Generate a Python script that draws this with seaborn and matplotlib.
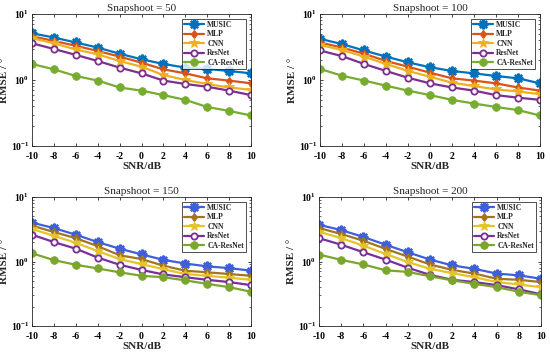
import numpy as np
import pandas as pd
import matplotlib
matplotlib.use("Agg")
import matplotlib.pyplot as plt
import seaborn as sns
from matplotlib.ticker import LogLocator, LogFormatterSciNotation, FixedLocator

sns.set_style("ticks")
plt.rcParams['font.family'] = ['Liberation Serif', 'DejaVu Serif']
plt.rcParams['mathtext.fontset'] = 'custom'
plt.rcParams['mathtext.rm'] = 'Liberation Serif:bold'
plt.rcParams['mathtext.it'] = 'Liberation Serif:bold'
plt.rcParams['mathtext.bf'] = 'Liberation Serif:bold'
plt.rcParams['axes.unicode_minus'] = False

snr = [-10, -8, -6, -4, -2, 0, 2, 4, 6, 8, 10]
methods = ["MUSIC", "MLP", "CNN", "ResNet", "CA-ResNet"]
titles = ["Snapshoot = 50", "Snapshoot = 100", "Snapshoot = 150", "Snapshoot = 200"]

# Snapshot 50
s50_music = [5.1, 4.4, 3.7, 3.1, 2.5, 2.06, 1.75, 1.54, 1.47, 1.37, 1.26]
s50_mlp = [4.6, 3.9, 3.3, 2.75, 2.26, 1.83, 1.45, 1.26, 1.06, 0.98, 0.89]
s50_cnn = [4.3, 3.6, 2.9, 2.45, 1.94, 1.59, 1.19, 1.0, 0.87, 0.77, 0.71]
s50_resnet = [3.6, 2.95, 2.4, 1.94, 1.54, 1.26, 0.98, 0.87, 0.79, 0.69, 0.59]
s50_ca = [1.75, 1.45, 1.15, 0.98, 0.77, 0.69, 0.59, 0.50, 0.39, 0.34, 0.29]

# Snapshot 100
s100_music = [4.2, 3.5, 2.8, 2.26, 1.85, 1.56, 1.37, 1.26, 1.15, 1.06, 0.89]
s100_mlp = [3.7, 3.1, 2.5, 1.94, 1.59, 1.29, 1.06, 0.98, 0.89, 0.77, 0.69]
s100_cnn = [3.4, 2.85, 2.26, 1.75, 1.37, 1.12, 0.91, 0.81, 0.72, 0.67, 0.61]
s100_resnet = [2.8, 2.3, 1.75, 1.37, 1.08, 0.89, 0.77, 0.69, 0.59, 0.54, 0.50]
s100_ca = [1.47, 1.16, 0.98, 0.82, 0.69, 0.59, 0.50, 0.44, 0.39, 0.35, 0.29]

# Snapshot 150
s150_music = [4.0, 3.3, 2.6, 2.0, 1.58, 1.29, 1.06, 0.93, 0.84, 0.79, 0.72]
s150_mlp = [3.6, 2.86, 2.3, 1.73, 1.25, 1.09, 0.86, 0.72, 0.68, 0.64, 0.60]
s150_cnn = [3.2, 2.5, 1.95, 1.45, 1.09, 0.91, 0.76, 0.64, 0.60, 0.56, 0.52]
s150_resnet = [2.6, 2.0, 1.58, 1.15, 0.89, 0.74, 0.63, 0.57, 0.52, 0.48, 0.43]
s150_ca = [1.34, 1.05, 0.89, 0.78, 0.68, 0.60, 0.57, 0.51, 0.45, 0.40, 0.34]

# Snapshot 200
s200_music = [3.7, 3.07, 2.4, 1.82, 1.39, 1.07, 0.87, 0.77, 0.65, 0.61, 0.54]
s200_mlp = [3.3, 2.67, 2.1, 1.57, 1.19, 0.90, 0.74, 0.65, 0.54, 0.52, 0.48]
s200_cnn = [2.9, 2.3, 1.76, 1.31, 0.98, 0.77, 0.66, 0.57, 0.48, 0.44, 0.40]
s200_resnet = [2.3, 1.82, 1.39, 1.07, 0.80, 0.62, 0.52, 0.48, 0.43, 0.37, 0.31]
s200_ca = [1.28, 1.06, 0.90, 0.73, 0.69, 0.59, 0.51, 0.45, 0.40, 0.34, 0.30]

panels = [
    [s50_music, s50_mlp, s50_cnn, s50_resnet, s50_ca],
    [s100_music, s100_mlp, s100_cnn, s100_resnet, s100_ca],
    [s150_music, s150_mlp, s150_cnn, s150_resnet, s150_ca],
    [s200_music, s200_mlp, s200_cnn, s200_resnet, s200_ca],
]

colors_top = ["#0072BD", "#D95319", "#EDB120", "#7E2F8E", "#77AC30"]
colors_bot = ["#3D5FD9", "#A5731E", "#E3C42A", "#7A2E9A", "#7BA62C"]
markers = [(8, 2, 0), "d", "*", "o", "o"]
msizes = [7, 4.5, 7, 4.5, 5.5]
mews = [1.7, 0.8, 0.6, 1.3, 0.6]

fig = plt.figure(figsize=(5.5, 3.53), dpi=100)
rects = [
    (32 / 550, 1 - 146 / 353, 219 / 550, 132 / 353),
    (320 / 550, 1 - 146 / 353, 220 / 550, 132 / 353),
    (32 / 550, 1 - 326 / 353, 219 / 550, 129 / 353),
    (319 / 550, 1 - 326 / 353, 222 / 550, 129 / 353),
]

for p, (rect, series, title) in enumerate(zip(rects, panels, titles)):
    ax = fig.add_axes(rect)
    cols = colors_top if p < 2 else colors_bot
    for i, (name, vals) in enumerate(zip(methods, series)):
        df = pd.DataFrame({"SNR": snr, "RMSE": vals})
        mfc = "white" if name == "ResNet" else cols[i]
        sns.lineplot(data=df, x="SNR", y="RMSE", ax=ax, color=cols[i],
                     linewidth=1.6, marker=markers[i], markersize=msizes[i],
                     markerfacecolor=mfc, markeredgecolor=cols[i],
                     markeredgewidth=mews[i], label=name)
    ax.set_yscale("log")
    ax.set_xlim(-10, 10)
    ax.set_ylim(0.1, 10)
    ax.xaxis.set_major_locator(FixedLocator(snr))
    ax.yaxis.set_major_locator(LogLocator(base=10, numticks=5))
    ax.yaxis.set_major_formatter(LogFormatterSciNotation())
    ax.yaxis.set_minor_locator(LogLocator(base=10, subs=np.arange(2, 10), numticks=20))
    ax.tick_params(which="both", direction="in", top=True, right=True,
                   labelsize=7, colors="#262626")
    ax.tick_params(axis="x", pad=4)
    ax.tick_params(axis="y", pad=2)
    ax.tick_params(which="major", length=2.5, width=0.6)
    ax.tick_params(which="minor", length=1.5, width=0.5)
    for lab in ax.get_xticklabels() + ax.get_yticklabels():
        lab.set_fontweight("bold")
        lab.set_color("black")
    for sp in ax.spines.values():
        sp.set_linewidth(0.6)
        sp.set_color("#262626")
    ax.set_title(title, fontsize=8, pad=2)
    ax.set_xlabel("SNR/dB", fontsize=8, fontweight="bold", labelpad=1)
    ax.set_ylabel("RMSE / °", fontsize=8, fontweight="bold", labelpad=1)
    leg = ax.legend(loc="upper right", prop={"weight": "bold", "size": 5.5},
                    frameon=True, fancybox=False, edgecolor="black",
                    handlelength=2.6, borderpad=0.3, labelspacing=0.2,
                    handletextpad=0.4, borderaxespad=0.6)
    leg.get_frame().set_linewidth(0.6)

fig.savefig("out.png", dpi=100)
